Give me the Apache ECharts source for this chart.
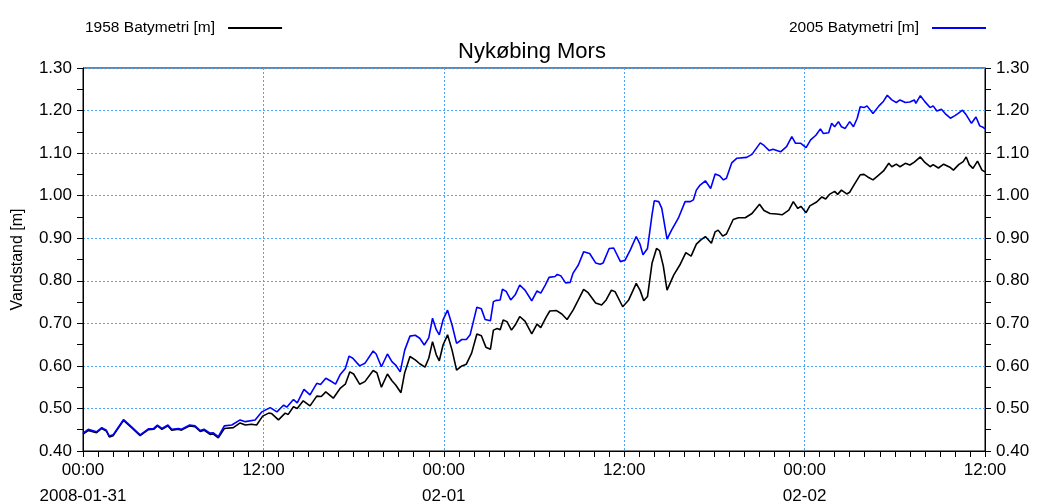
<!DOCTYPE html>
<html>
<head>
<meta charset="utf-8">
<script src="https://cdn.jsdelivr.net/npm/echarts@6/dist/echarts.min.js"></script>
<style>
html,body{margin:0;padding:0;background:#fff;}
#chart{width:1041px;height:504px;}
</style>
</head>
<body>
<div id="chart"></div>
<script>
// hours since 2008-01-31 00:00
const hours2005 = [
0,0.35,0.9,1.25,1.55,1.75,2.0,2.7,3.25,3.8,
4.35,4.7,4.95,5.25,5.65,5.9,6.35,6.55,7.1,7.45,
7.8,8.05,8.45,8.65,9.0,9.4,9.9,10.45,10.8,11.45,
11.9,12.45,12.9,13.35,13.55,14.0,14.25,14.7,15.1,15.55,
15.8,16.15,16.45,16.8,17.1,17.45,17.7,17.95,18.4,18.75,
19.3,19.5,19.85,20.25,20.55,20.8,21.1,21.4,21.75,22.1,
22.4,22.7,23.0,23.25,23.5,23.7,23.95,24.25,24.55,24.85,
25.2,25.5,25.75,26.2,26.5,26.75,27.1,27.3,27.5,27.75,
27.9,28.15,28.45,28.75,29.05,29.4,29.85,30.2,30.45,30.75,
31.0,31.4,31.55,31.8,32.1,32.4,32.6,32.95,33.3,33.7,
34.1,34.4,34.6,35.0,35.3,35.75,36.05,36.4,36.8,37.05,
37.25,37.55,37.85,38.0,38.3,38.5,38.85,39.15,39.6,40.05,
40.4,40.6,40.8,41.05,41.4,41.75,42.05,42.35,42.6,42.8,
43.15,43.5,44.15,44.5,45.05,45.3,45.65,45.9,46.4,46.8,
47.15,47.4,47.75,48.1,48.4,48.75,49.05,49.25,49.6,49.8,
50.0,50.25,50.45,50.7,51.0,51.25,51.5,51.7,51.95,52.15,
52.55,52.95,53.25,53.5,53.8,54.1,54.35,54.7,55.0,55.3,
55.4,55.7,56.0,56.35,56.55,56.8,57.1,57.35,57.7,58.0,
58.2,58.5,58.75,59.1,59.4,59.65,59.9,60
];
const level2005 = [
0.442,0.451,0.445,0.455,0.449,0.435,0.438,0.474,0.456,0.438,
0.452,0.453,0.461,0.453,0.461,0.451,0.453,0.451,0.461,0.459,
0.448,0.451,0.442,0.443,0.434,0.459,0.461,0.473,0.469,0.473,
0.492,0.502,0.492,0.508,0.503,0.521,0.513,0.545,0.532,0.559,
0.556,0.571,0.565,0.557,0.579,0.594,0.623,0.618,0.600,0.606,
0.635,0.628,0.598,0.628,0.610,0.602,0.586,0.637,0.670,0.672,
0.665,0.649,0.666,0.712,0.685,0.673,0.708,0.731,0.696,0.653,
0.662,0.662,0.673,0.738,0.734,0.709,0.706,0.751,0.754,0.755,
0.780,0.775,0.755,0.767,0.790,0.778,0.753,0.776,0.771,0.790,
0.808,0.810,0.815,0.811,0.795,0.796,0.818,0.837,0.868,0.864,
0.842,0.839,0.842,0.876,0.877,0.845,0.848,0.872,0.904,0.886,
0.861,0.876,0.955,0.988,0.986,0.970,0.898,0.919,0.947,0.986,
0.986,0.990,1.013,1.025,1.035,1.017,1.051,1.047,1.037,1.041,
1.077,1.088,1.090,1.097,1.124,1.118,1.106,1.109,1.103,1.115,
1.139,1.123,1.123,1.113,1.131,1.142,1.157,1.146,1.148,1.170,
1.162,1.174,1.162,1.158,1.174,1.162,1.182,1.209,1.207,1.211,
1.193,1.211,1.222,1.236,1.225,1.219,1.225,1.219,1.220,1.225,
1.217,1.235,1.221,1.207,1.211,1.199,1.203,1.193,1.182,1.188,
1.193,1.201,1.190,1.170,1.185,1.164,1.160,1.157
];
const hours1958 = [
0,0.35,0.9,1.25,1.55,1.75,2.0,2.7,3.25,3.8,
4.35,4.7,4.95,5.25,5.65,5.9,6.35,6.55,7.1,7.45,
7.8,8.05,8.45,8.65,9.0,9.4,10.0,10.45,10.8,11.2,
11.55,11.95,12.35,12.55,13.0,13.45,13.65,14.0,14.25,14.65,
15.1,15.55,15.85,16.15,16.65,17.1,17.45,17.75,18.0,18.4,
18.75,19.3,19.55,19.85,20.25,20.55,20.8,21.15,21.4,21.75,
22.1,22.4,22.75,23.0,23.25,23.5,23.7,23.95,24.25,24.55,
24.85,25.2,25.5,25.85,26.2,26.5,26.8,27.1,27.3,27.55,
27.75,27.95,28.2,28.5,28.75,29.05,29.4,29.85,30.2,30.45,
30.8,31.05,31.5,31.85,32.2,32.6,32.95,33.3,33.6,34.1,
34.5,34.8,35.15,35.4,35.9,36.3,36.8,37.05,37.3,37.55,
37.85,38.15,38.35,38.6,38.85,39.3,39.7,40.1,40.45,40.8,
41.1,41.4,41.8,42.05,42.25,42.55,42.8,43.25,43.6,44.05,
44.5,45.0,45.3,45.7,46.15,46.5,46.95,47.25,47.55,47.75,
48.1,48.35,48.8,49.15,49.4,49.65,50.0,50.2,50.45,50.8,
51.0,51.15,51.35,51.7,51.95,52.2,52.55,52.85,53.25,53.6,
53.8,54.1,54.35,54.7,55.0,55.3,55.7,56.0,56.35,56.55,
56.9,57.25,57.7,57.9,58.25,58.55,58.75,58.95,59.2,59.5,
59.8,60
];
const level1958 = [
0.440,0.448,0.443,0.453,0.447,0.433,0.436,0.472,0.454,0.436,
0.450,0.451,0.459,0.451,0.459,0.449,0.451,0.449,0.459,0.457,
0.446,0.449,0.439,0.440,0.431,0.453,0.455,0.466,0.461,0.463,
0.461,0.482,0.489,0.488,0.473,0.489,0.486,0.504,0.500,0.518,
0.506,0.529,0.528,0.539,0.524,0.547,0.557,0.586,0.581,0.557,
0.563,0.589,0.584,0.550,0.581,0.565,0.555,0.537,0.584,0.622,
0.614,0.605,0.597,0.618,0.657,0.626,0.612,0.649,0.673,0.637,
0.590,0.600,0.604,0.630,0.675,0.671,0.644,0.639,0.684,0.688,
0.685,0.708,0.704,0.684,0.696,0.716,0.705,0.675,0.698,0.690,
0.714,0.729,0.730,0.722,0.709,0.731,0.755,0.780,0.772,0.748,
0.743,0.755,0.778,0.774,0.739,0.755,0.794,0.778,0.753,0.763,
0.841,0.876,0.871,0.835,0.778,0.814,0.837,0.866,0.858,0.886,
0.896,0.904,0.888,0.915,0.919,0.905,0.910,0.944,0.948,0.948,
0.958,0.980,0.965,0.958,0.957,0.955,0.966,0.986,0.970,0.975,
0.960,0.976,0.985,0.997,0.992,1.003,1.010,1.003,1.013,1.004,
1.008,1.017,1.029,1.049,1.050,1.044,1.037,1.046,1.058,1.076,
1.068,1.074,1.068,1.076,1.072,1.079,1.091,1.078,1.068,1.073,
1.065,1.074,1.066,1.060,1.073,1.080,1.091,1.073,1.064,1.081,
1.060,1.056
];
const xTickLabels = ['00:00\n2008-01-31','12:00','00:00\n02-01','12:00','00:00\n02-02','12:00'];
const seriesNames = ['1958 Batymetri [m]','2005 Batymetri [m]'];
const chartTitle = 'Nykøbing Mors';
const yName = 'Vandstand [m]';

function pairs(h, v){ const n=Math.min(h.length,v.length); const out=[]; for(let i=0;i<n;i++) out.push([h[i],v[i]]); return out; }

const FONT = "'Liberation Sans', Arial, sans-serif";
function gridLine(){ return {show:true, lineStyle:{color:'#4aa5ff', width:1, type:[2,2]}}; }
const chart = echarts.init(document.getElementById('chart'), null, {renderer:'canvas'});
function yAxisBase(){
  return {
    type:'value', min:0.4, max:1.3, interval:0.1,
    axisLine:{show:true, onZero:false, lineStyle:{color:'#000', width:1}},
    axisTick:{show:true, inside:false, length:6, lineStyle:{color:'#000'}},
    minorTick:{show:true, splitNumber:2, length:6, lineStyle:{color:'#000'}},
    axisLabel:{color:'#000', fontSize:17, fontFamily:FONT, margin:11, formatter:v=>v.toFixed(2)}
  };
}
const legendText = {fontSize:15.5, color:'#000', fontFamily:FONT, padding:[0,8,0,0]};
chart.setOption({
  animation:false,
  backgroundColor:'#fff',
  title:{text:chartTitle, left:453, top:36, textStyle:{fontSize:22, fontWeight:'normal', color:'#000', fontFamily:FONT}},
  legend:[
    {data:[{name:seriesNames[0], icon:'rect'}], left:80, top:15, align:'right', itemWidth:54, itemHeight:2,
     textStyle:legendText},
    {data:[{name:seriesNames[1], icon:'rect'}], right:50, top:15, align:'right', itemWidth:54, itemHeight:2,
     textStyle:legendText}
  ],
  grid:{left:83, right:56, top:68, bottom:53, show:true, borderColor:'#000', borderWidth:1, backgroundColor:'#fff',
        containLabel:false, outerBoundsMode:'none'},
  xAxis:{
    type:'value', min:0, max:60, interval:12,
    axisLine:{show:true, onZero:false, lineStyle:{color:'#000', width:1}},
    axisTick:{show:true, inside:false, length:6, lineStyle:{color:'#000'}},
    minorTick:{show:true, splitNumber:12, length:6, lineStyle:{color:'#000'}},
    splitLine:gridLine(),
    axisLabel:{color:'#000', fontSize:17, fontFamily:FONT, margin:6, lineHeight:26,
      showMinLabel:true, showMaxLabel:true, hideOverlap:false,
      formatter:v=>xTickLabels[Math.round(v/12)]}
  },
  yAxis:[
    Object.assign(yAxisBase(), {position:'left', splitLine:gridLine(),
      name:yName, nameLocation:'middle', nameGap:57, nameRotate:90,
      nameTextStyle:{fontSize:16, color:'#000', fontFamily:FONT}}),
    Object.assign(yAxisBase(), {position:'right', splitLine:{show:false}})
  ],
  series:[
    {name:seriesNames[0], type:'line', data:pairs(hours1958, level1958), showSymbol:false, symbol:'none',
     lineStyle:{color:'#000000', width:1.6}, itemStyle:{color:'#000000'}, z:2},
    {name:seriesNames[1], type:'line', data:pairs(hours2005, level2005), showSymbol:false, symbol:'none',
     lineStyle:{color:'#0000ff', width:1.6}, itemStyle:{color:'#0000ff'}, z:3}
  ]
});
</script>
</body>
</html>
